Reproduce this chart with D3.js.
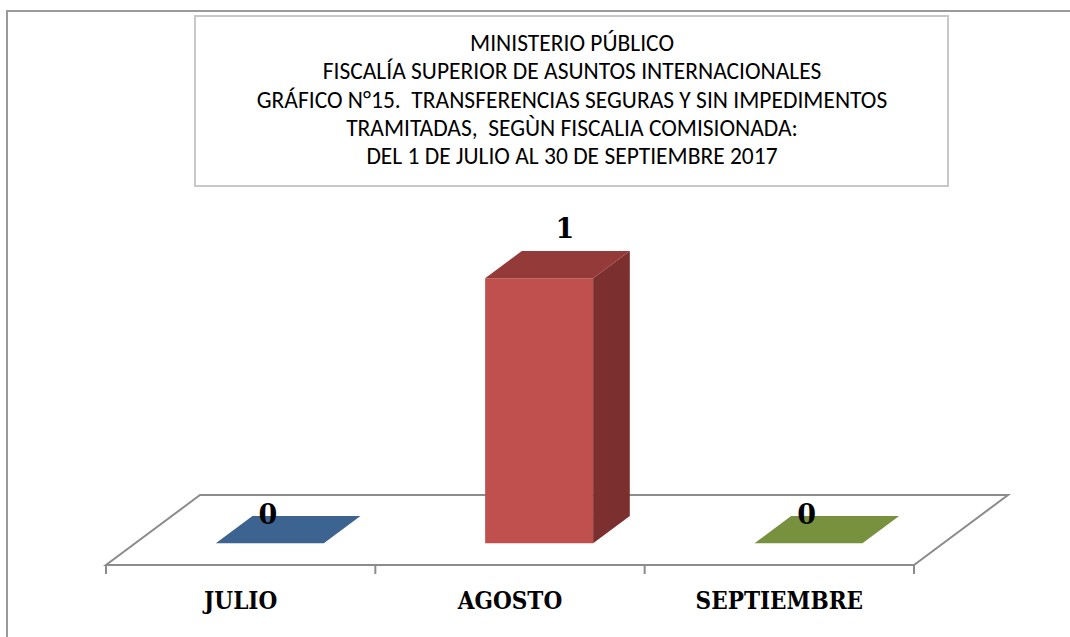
<!DOCTYPE html>
<html>
<head>
<meta charset="utf-8">
<script src="https://cdn.jsdelivr.net/npm/d3@7"></script>
<style>
  body { margin: 0; background: #fff; }
  svg { display: block; }
  .title text { white-space: pre; }
</style>
</head>
<body>
<div id="chart"></div>
<script>
// data
const categories = ['JULIO', 'AGOSTO', 'SEPTIEMBRE'];
const values = [0, 1, 0];
const barColors = [
  { front: '#4F81BD', top: '#3D6390', side: '#345479' },
  { front: '#C0504D', top: '#943B3A', side: '#7B302F' },
  { front: '#9BBB59', top: '#77913F', side: '#617634' }
];
const titleLines = [
  'MINISTERIO PÚBLICO',
  'FISCALÍA SUPERIOR DE ASUNTOS INTERNACIONALES',
  'GRÁFICO N°15.  TRANSFERENCIAS SEGURAS Y SIN IMPEDIMENTOS',
  'TRAMITADAS,  SEGÙN FISCALIA COMISIONADA:',
  'DEL 1 DE JULIO AL 30 DE SEPTIEMBRE 2017'
];

const width = 1070;
const height = 637;

// floor (front edge) and depth projection
const floor = { left: 106, right: 914, front: 565 };
const depth = { dx: 94, dy: -70 };
const barWidth = 108;
const zFront = 0.31, zBack = 0.70;

const svg = d3.select('#chart')
  .append('svg')
  .attr('width', width)
  .attr('height', height);

// outer frame (only top/left visible)
svg.append('path')
  .attr('d', `M7,${height + 5} V11 H${width + 5}`)
  .attr('fill', 'none')
  .attr('stroke', '#9a9a9a')
  .attr('stroke-width', 2);

// title box
svg.append('rect')
  .attr('x', 195).attr('y', 16)
  .attr('width', 753).attr('height', 170)
  .attr('fill', '#fff')
  .attr('stroke', '#c8c8c8')
  .attr('stroke-width', 2);

svg.append('g')
  .attr('class', 'title')
  .selectAll('text')
  .data(titleLines)
  .join('text')
  .attr('x', 572)
  .attr('y', (d, i) => 51 + i * 28.3)
  .attr('text-anchor', 'middle')
  .attr('font-family', 'Carlito, Lato, "Open Sans", sans-serif')
  .attr('font-size', 23.5)
  .attr('fill', '#000')
  .text((d) => d);

// scales
const xScale = d3.scaleBand()
  .domain(categories)
  .range([floor.left, floor.right]);

const yScale = d3.scaleLinear()
  .domain([0, 1])
  .range([0, 265]);

const proj = (x, y, z) => [x + depth.dx * z, y + depth.dy * z];
const poly = (pts) => 'M' + pts.map((p) => p.join(',')).join('L') + 'Z';

// floor
svg.append('path')
  .attr('d', poly([
    proj(floor.left, floor.front, 0),
    proj(floor.right, floor.front, 0),
    proj(floor.right, floor.front, 1),
    proj(floor.left, floor.front, 1)
  ]))
  .attr('fill', '#fff')
  .attr('stroke', '#8c8c8c')
  .attr('stroke-width', 2);

// category ticks
const tickX = [floor.left, ...categories.map((c) => xScale(c) + xScale.bandwidth())];
svg.append('g')
  .selectAll('line')
  .data(tickX)
  .join('line')
  .attr('x1', (d) => d).attr('x2', (d) => d)
  .attr('y1', floor.front).attr('y2', floor.front + 9)
  .attr('stroke', '#8c8c8c')
  .attr('stroke-width', 2);

// bars
const bars = svg.append('g').attr('class', 'bars');
categories.forEach((c, i) => {
  const x0 = xScale(c) + (xScale.bandwidth() - barWidth) / 2;
  const x1 = x0 + barWidth;
  const yb = floor.front;
  const yt = floor.front - yScale(values[i]);
  const col = barColors[i];
  const g = bars.append('g');
  if (values[i] > 0) {
    // front face
    g.append('path')
      .attr('d', poly([proj(x0, yb, zFront), proj(x1, yb, zFront), proj(x1, yt, zFront), proj(x0, yt, zFront)]))
      .attr('fill', col.front);
    // side face
    g.append('path')
      .attr('d', poly([proj(x1, yb, zFront), proj(x1, yb, zBack), proj(x1, yt, zBack), proj(x1, yt, zFront)]))
      .attr('fill', col.side);
  }
  // top face
  g.append('path')
    .attr('d', poly([proj(x0, yt, zFront), proj(x1, yt, zFront), proj(x1, yt, zBack), proj(x0, yt, zBack)]))
    .attr('fill', col.top);

  // value label
  const [lx, ly] = proj((x0 + x1) / 2, yt, values[i] > 0 ? 0.585 : 0.29);
  svg.append('text')
    .attr('x', lx)
    .attr('y', ly - 21)
    .attr('text-anchor', 'middle')
    .attr('font-family', '"DejaVu Serif", "Liberation Serif", serif')
    .attr('font-weight', 'bold')
    .attr('font-size', 27)
    .attr('fill', '#000')
    .text(values[i]);
});

// category labels
svg.append('g')
  .selectAll('text')
  .data(categories)
  .join('text')
  .attr('x', (d) => xScale(d) + xScale.bandwidth() / 2)
  .attr('y', 609)
  .attr('text-anchor', 'middle')
  .attr('font-family', '"DejaVu Serif Condensed", "DejaVu Serif", serif')
  .attr('font-stretch', 'condensed')
  .attr('font-weight', 'bold')
  .attr('font-size', 24)
  .attr('fill', '#000')
  .text((d) => d);
</script>
</body>
</html>
